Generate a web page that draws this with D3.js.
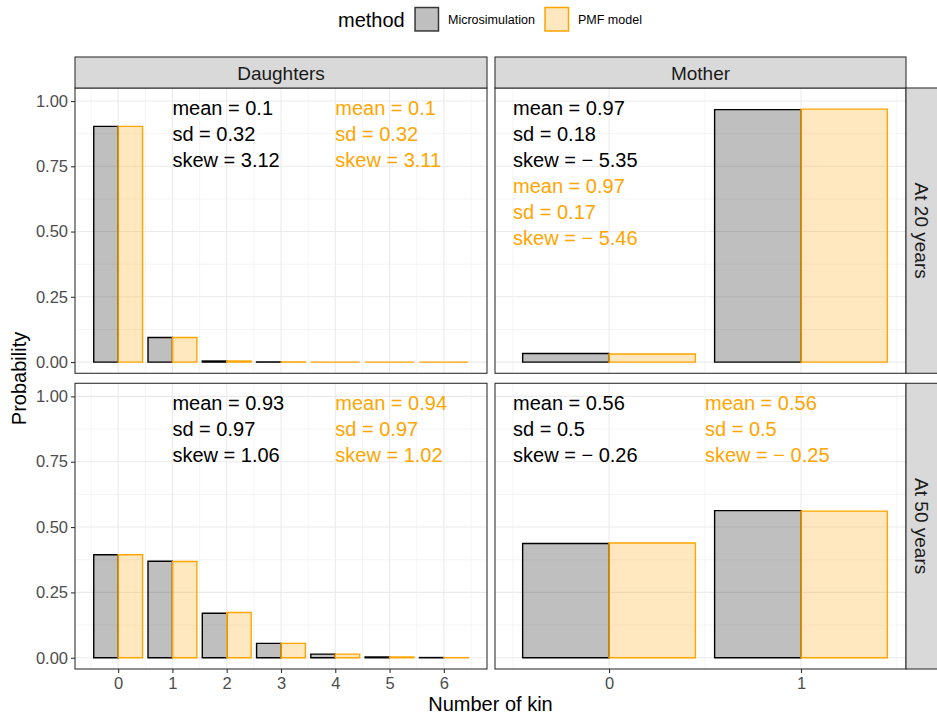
<!DOCTYPE html>
<html>
<head>
<meta charset="utf-8">
<script src="https://cdn.jsdelivr.net/npm/d3@7"></script>
<style>
  body { margin: 0; background: #fff; }
  svg { font-family: "Liberation Sans", Arial, sans-serif; }
</style>
</head>
<body>
<svg id="chart" width="937" height="716"></svg>
<script>
// facets and legend
const kinTypes = ["Daughters", "Mother"];
const ageLabels = ["At 20 years", "At 50 years"];
const methods = ["Microsimulation", "PMF model"];
const methodColors = ["#000000", "#FFA500"];

// x categories per kin type
const daughterKin = [0, 1, 2, 3, 4, 5, 6];
const motherKin = [0, 1];

// probabilities (null = no bar)
const daughters20Micro = [0.903, 0.094, 0.004, 0.0005, null, null, null];
const daughters20Pmf   = [0.903, 0.094, 0.004, 0.0004, 0.0, 0.0, 0.0];
const daughters50Micro = [0.394, 0.369, 0.170, 0.055, 0.014, 0.003, 0.0008];
const daughters50Pmf   = [0.394, 0.368, 0.173, 0.055, 0.014, 0.003, 0.0005];
const mother20Micro = [0.033, 0.967];
const mother20Pmf   = [0.031, 0.969];
const mother50Micro = [0.437, 0.563];
const mother50Pmf   = [0.439, 0.561];

// summary labels: [micro, pmf]
const statsD20 = [["mean = 0.1", "sd = 0.32", "skew = 3.12"], ["mean = 0.1", "sd = 0.32", "skew = 3.11"]];
const statsD50 = [["mean = 0.93", "sd = 0.97", "skew = 1.06"], ["mean = 0.94", "sd = 0.97", "skew = 1.02"]];
const statsM20 = [["mean = 0.97", "sd = 0.18", "skew = \u2212 5.35"], ["mean = 0.97", "sd = 0.17", "skew = \u2212 5.46"]];
const statsM50 = [["mean = 0.56", "sd = 0.5", "skew = \u2212 0.26"], ["mean = 0.56", "sd = 0.5", "skew = \u2212 0.25"]];

const yTicks = [0, 0.25, 0.5, 0.75, 1];

const panels = [
  {row: 0, col: 0, cats: daughterKin, series: [daughters20Micro, daughters20Pmf], stats: statsD20, statX: [1, 4], stack: false},
  {row: 0, col: 1, cats: motherKin, series: [mother20Micro, mother20Pmf], stats: statsM20, statX: [-0.5, -0.5], stack: true},
  {row: 1, col: 0, cats: daughterKin, series: [daughters50Micro, daughters50Pmf], stats: statsD50, statX: [1, 4], stack: false},
  {row: 1, col: 1, cats: motherKin, series: [mother50Micro, mother50Pmf], stats: statsM50, statX: [-0.5, 0.5], stack: false}
];

const svg = d3.select("#chart");

const colX = [[75, 487], [495, 906]];
const rowY = [[88, 373.3], [383.3, 669]];
const xDomains = [[-0.795, 6.795], [-0.594, 1.547]];
const yDomain = [-0.043, 1.05];
const barW = 0.9;

panels.forEach(p => {
  const x = d3.scaleLinear().domain(xDomains[p.col]).range(colX[p.col]);
  const y = d3.scaleLinear().domain(yDomain).range([rowY[p.row][1], rowY[p.row][0]]);
  const g = svg.append("g");
  const x0 = colX[p.col][0], x1 = colX[p.col][1];
  const y0 = rowY[p.row][0], y1 = rowY[p.row][1];

  // grid
  const minorY = d3.range(0.125, 1, 0.25);
  g.selectAll(".gmy").data(minorY).join("line")
    .attr("x1", x0).attr("x2", x1).attr("y1", d => y(d)).attr("y2", d => y(d))
    .attr("stroke", "#EBEBEB").attr("stroke-width", 0.55);
  const minorX = p.cats.map(c => c - 0.5).concat([p.cats[p.cats.length - 1] + 0.5]);
  g.selectAll(".gmx").data(minorX).join("line")
    .attr("y1", y0).attr("y2", y1).attr("x1", d => x(d)).attr("x2", d => x(d))
    .attr("stroke", "#EBEBEB").attr("stroke-width", 0.55);
  g.selectAll(".gy").data(yTicks).join("line")
    .attr("x1", x0).attr("x2", x1).attr("y1", d => y(d)).attr("y2", d => y(d))
    .attr("stroke", "#EBEBEB").attr("stroke-width", 1.1);
  g.selectAll(".gx").data(p.cats).join("line")
    .attr("y1", y0).attr("y2", y1).attr("x1", d => x(d)).attr("x2", d => x(d))
    .attr("stroke", "#EBEBEB").attr("stroke-width", 1.1);

  // bars (dodged)
  const bars = [];
  p.cats.forEach((c, i) => {
    const present = p.series.map(s => s[i] !== null && s[i] !== undefined);
    const n = present.filter(Boolean).length;
    let k = 0;
    p.series.forEach((s, m) => {
      if (!present[m]) return;
      const w = barW / n;
      bars.push({x: c - barW / 2 + k * w, w: w, v: s[i], m: m});
      k++;
    });
  });
  // drawn as paths so zero-height bars still show their outline
  g.selectAll(".bar").data(bars).join("path")
    .attr("d", d => {
      const bx = x(d.x), bw = x(d.x + d.w) - x(d.x);
      const top = y(d.v), bh = y(0) - y(d.v);
      return `M${bx},${top}h${bw}v${bh}h${-bw}Z`;
    })
    .attr("fill", d => methodColors[d.m]).attr("fill-opacity", 0.25)
    .attr("stroke", d => methodColors[d.m]).attr("stroke-width", 1.4);

  // stats text
  const lines = [];
  p.stats.forEach((st, m) => {
    st.forEach((t, j) => {
      const idx = p.stack ? m * 3 + j : j;
      lines.push({t: t, m: m, x: p.statX[m], idx: idx});
    });
  });
  g.selectAll(".stat").data(lines).join("text")
    .attr("x", d => x(d.x))
    .attr("y", d => y0 + 27 + d.idx * 26)
    .attr("fill", d => methodColors[d.m])
    .attr("font-size", 20)
    .text(d => d.t);

  // border
  g.append("rect").attr("x", x0).attr("y", y0).attr("width", x1 - x0).attr("height", y1 - y0)
    .attr("fill", "none").attr("stroke", "#333333").attr("stroke-width", 1.1);

  // y axis on left column
  if (p.col === 0) {
    const ay = g.append("g").attr("transform", `translate(${x0},0)`)
      .call(d3.axisLeft(y).tickValues(yTicks).tickFormat(d3.format(".2f")).tickSize(4).tickPadding(3));
    ay.select(".domain").remove();
    ay.selectAll("line").attr("stroke", "#333333").attr("stroke-width", 1.1);
    ay.selectAll("text").attr("fill", "#4D4D4D").attr("font-size", 16.5)
      .attr("font-family", "Liberation Sans, Arial, sans-serif");
  }
  // x axis on bottom row
  if (p.row === 1) {
    const ax = g.append("g").attr("transform", `translate(0,${y1})`)
      .call(d3.axisBottom(x).tickValues(p.cats).tickFormat(d3.format("d")).tickSize(4).tickPadding(4));
    ax.select(".domain").remove();
    ax.selectAll("line").attr("stroke", "#333333").attr("stroke-width", 1.1);
    ax.selectAll("text").attr("fill", "#4D4D4D").attr("font-size", 16.5)
      .attr("font-family", "Liberation Sans, Arial, sans-serif");
  }
});

// top strips
kinTypes.forEach((k, i) => {
  const sx0 = colX[i][0], sx1 = colX[i][1];
  svg.append("rect").attr("x", sx0).attr("y", 57).attr("width", sx1 - sx0).attr("height", 31)
    .attr("fill", "#D9D9D9").attr("stroke", "#333333").attr("stroke-width", 1.1);
  svg.append("text").attr("x", (sx0 + sx1) / 2).attr("y", 79.5)
    .attr("text-anchor", "middle").attr("font-size", 19).attr("fill", "#1A1A1A").text(k);
});

// right strips
ageLabels.forEach((a, i) => {
  const sy0 = rowY[i][0], sy1 = rowY[i][1];
  svg.append("rect").attr("x", 906).attr("y", sy0).attr("width", 32).attr("height", sy1 - sy0)
    .attr("fill", "#D9D9D9").attr("stroke", "#333333").attr("stroke-width", 1.1);
  const cy = (sy0 + sy1) / 2;
  svg.append("text").attr("transform", `translate(914.5,${cy}) rotate(90)`)
    .attr("text-anchor", "middle").attr("font-size", 19).attr("fill", "#1A1A1A").text(a);
});

// axis titles
svg.append("text").attr("x", 490.5).attr("y", 711).attr("text-anchor", "middle")
  .attr("font-size", 20).attr("fill", "#000").text("Number of kin");
svg.append("text").attr("transform", "translate(26,378.5) rotate(-90)").attr("text-anchor", "middle")
  .attr("font-size", 20).attr("fill", "#000").text("Probability");

// legend
const legend = svg.append("g");
legend.append("text").attr("x", 338).attr("y", 27).attr("font-size", 20).attr("fill", "#000").text("method");
const keyX = [415, 545];
methods.forEach((m, i) => {
  legend.append("rect").attr("x", keyX[i]).attr("y", 7.5).attr("width", 23.5).attr("height", 23.5)
    .attr("fill", methodColors[i]).attr("fill-opacity", 0.25)
    .attr("stroke", methodColors[i]).attr("stroke-opacity", i === 0 ? 0.75 : 1).attr("stroke-width", 1.5);
  legend.append("text").attr("x", keyX[i] + 33).attr("y", 24).attr("font-size", 12.5).attr("fill", "#000").text(m);
});
</script>
</body>
</html>
